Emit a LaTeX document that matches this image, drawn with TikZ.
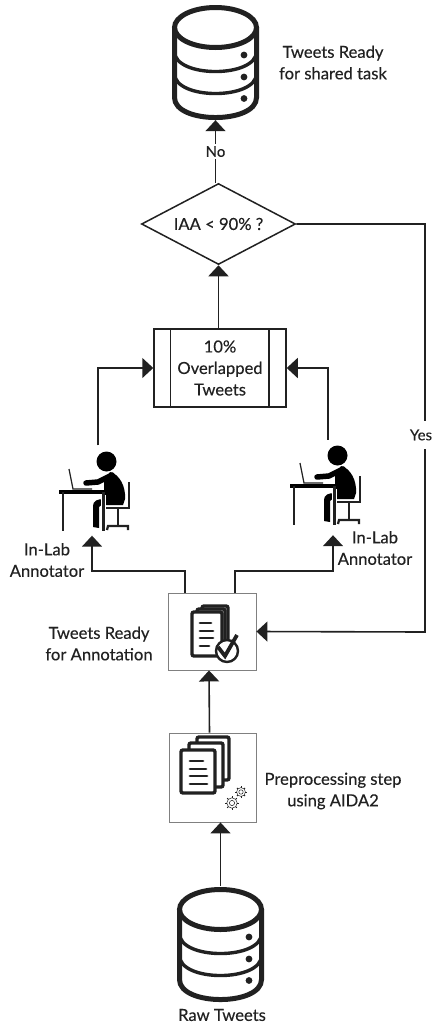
\documentclass[tikz,border=0pt]{standalone}
\usepackage{fontspec}
\setmainfont{Lato}[FakeBold=0.25]
\usepackage{tikz}
\usetikzlibrary{arrows.meta,shapes,calc}
\definecolor{inkdark}{gray}{0.13}
\definecolor{boxgray}{gray}{0.5}

\begin{document}
\begin{tikzpicture}[x=1pt,y=-1pt]
\tikzset{
	flow line/.style = {draw=inkdark, line width=1.6, -{Triangle[width=20,length=11]}},
	icon node/.style = {inner sep=0, minimum width=70, minimum height=90},
	db node/.style = {inner sep=0, minimum width=87, minimum height=115},
	label node/.style = {align=center, font=\fontsize{16.6}{21.5}\selectfont, text=inkdark, inner sep=1},
	edge label/.style = {fill=white, font=\fontsize{15}{18}\selectfont, text=inkdark, inner sep=2},
	decision node/.style = {diamond, draw=inkdark, line width=1.5, inner sep=0, aspect=1.9, minimum width=154, minimum height=81, font=\fontsize{16.6}{21.5}\selectfont, text=inkdark},
	process node/.style = {draw=inkdark, line width=1.5, minimum width=132, minimum height=78, inner sep=0, align=center, font=\fontsize{16.6}{21.5}\selectfont, text=inkdark},
	doc box/.style = {draw=boxgray, line width=0.9, fill=white, inner sep=0},
	page/.style = {draw=inkdark, line width=3.4, fill=white, rounded corners=2},
	page line/.style = {draw=inkdark, line width=2.8, line cap=round},
	database/.pic = {
		\draw[inkdark, line width=5] (-41,-35) -- (-41,35) .. controls (-41,61.7) and (41,61.7) .. (41,35) -- (41,-35);
		\draw[inkdark, line width=5] (0,-35) ellipse [x radius=41, y radius=20];
		\foreach \k in {-11,11} \draw[inkdark, line width=3.4] (-41,\k) .. controls (-41,\k+26.7) and (41,\k+26.7) .. (41,\k);
		\foreach \k in {-7.5,14.5,36} \fill[inkdark] (28.5,\k) circle (3.4);
	},
	annotator/.pic = {
		% head, body, leg
		\fill[black] (0.5,0.5) circle (10);
		\fill[black] (4,11) .. controls (13,13) and (20,25) .. (19,38) -- (17,44) -- (-2,44) -- (-2,20) -- cycle;
		\draw[black, line width=5.5, line cap=round] (-20,22) -- (-8,21) -- (6,14);
		\fill[black] (-13,66) -- (-13,45) .. controls (-13,40) and (-9,38) .. (-2,38) -- (-2,42) -- (-7,46) -- (-7,67) -- cycle;
		% desk and laptop
		\draw[inkdark, line width=1.2] (-37,8) -- (-33,28) -- (-14,28);
		\draw[white, line width=4.6] (-2.5,34) -- (-2.5,70);
		\draw[black, line width=4] (-47,31) -- (0,31);
		\draw[inkdark, line width=2.6] (-43,31) -- (-43,70) (-2.5,31) -- (-2.5,70);
		% chair
		\draw[inkdark, line width=2.2] (23,21) -- (23,47) -- (0,47) (12,47) -- (12,64);
		\draw[inkdark, line width=2.2] (1,69) -- (2,65) -- (22,65) -- (22,69);
	},
	gear icon/.pic = {
		\draw[inkdark, line width=0.5] (0,0) circle (0.4*\pgfkeysvalueof{/tikz/gear size});
		\draw[inkdark, line width=0.5] (0,0) circle (0.8*\pgfkeysvalueof{/tikz/gear size});
		\foreach \a in {0,45,...,315} \draw[inkdark, line width=1] (\a:0.8*\pgfkeysvalueof{/tikz/gear size}) -- (\a:1.05*\pgfkeysvalueof{/tikz/gear size});
	},
	gear size/.initial = 6.5,
}
\path[use as bounding box, fill=white] (0,0) rectangle (434,1023);

\node(readydb)[db node] at (215.5,62.5) {};
\pic at (readydb) {database};
\node(iaa)[decision node] at (218.5,224) {IAA < 90\% ?};
\node(overlap)[process node] at (220,368) {10\%\\Overlapped\\Tweets};
\draw[draw=inkdark, line width=1.5] (overlap.north west)+(17,0) -- ++(17,78);
\draw[draw=inkdark, line width=1.5] (overlap.north east)+(-18,0) -- ++(-18,78);
\node(annotL)[icon node] at (94,490.5) {};
\pic at (106,461) {annotator};
\node(annotR)[icon node, minimum height=95] at (325,487.5) {};
\pic at (337,455) {annotator};
\node(annotbox)[doc box, minimum width=88, minimum height=77] at (212,631.5) {};
\node(prepbox)[doc box, minimum width=87, minimum height=89] at (212.5,777.5) {};
\node(rawdb)[db node, minimum height=117] at (220.5,944.5) {};
\pic at (rawdb) {database};

% annotation icon
\draw[page] (202,606) rectangle (228,648);
\draw[page] (197,609) rectangle (225,652);
\draw[page] (192,612) rectangle (222,656);
\foreach \ya/\xb in {623/211,631/213,638/213,646/209} \draw[page line] (200,\ya) -- (\xb,\ya);
\draw[inkdark, line width=2.4, fill=white] (227,651) circle (11);
\draw[inkdark, line width=3.8] (218,647) -- (225,656) -- (237,635);

% preprocessing icon
\draw[page] (197,737) rectangle (229,780);
\draw[page] (189,743) rectangle (223,787);
\draw[page] (181,750) rectangle (215,793);
\foreach \ya/\xb in {761/203,769/206,776/207,784/207} \draw[page line] (190,\ya) -- (\xb,\ya);
\pic at (232,803) {gear icon};
\pic[gear size=5.5] at (241,792) {gear icon};

\node(readylabel)[label node] at (333,62.5) {Tweets Ready\\for shared task};
\node(annotLlabel)[label node] at (47,560) {In-Lab\\Annotator};
\node(annotRlabel)[label node] at (375,548) {In-Lab\\Annotator};
\node(annotboxlabel)[label node] at (99,643.5) {Tweets Ready\\for Annotation};
\node(preplabel)[label node] at (333,791) {Preprocessing step\\using AIDA2};
\node(rawlabel)[label node] at (222,1015) {Raw Tweets};

\coordinate(bendL) at (92,571);
\coordinate(bendR) at (333,571);
\coordinate(bendY) at (425,632);

\draw[flow line] (iaa.north -| readydb.south) -- node[edge label, pos=.5]{No} (readydb.south);
\draw[flow line] (overlap.north -| iaa.south) -- (iaa.south);
\draw[flow line] ([xshift=4]annotL.north) |- (overlap.west);
\draw[flow line] ([xshift=3]annotR.north) |- (overlap.east);
\draw[flow line] ([xshift=-27]annotbox.north) |- (bendL) -- ([xshift=-2]annotL.south);
\draw[flow line] ([xshift=23]annotbox.north) |- (bendR) -- ([xshift=8]annotR.south);
\draw[flow line] ([xshift=-3]prepbox.north) -- ([xshift=-3]annotbox.south);
\draw[flow line] (rawdb.north) -- (rawdb.north |- prepbox.south);
\draw[flow line] (iaa.east) -- (iaa.east -| bendY) -- node[edge label, pos=.517, minimum height=28, xshift=-4, inner sep=1]{Yes} (bendY) -- (annotbox.east);

\end{tikzpicture}
\end{document}
